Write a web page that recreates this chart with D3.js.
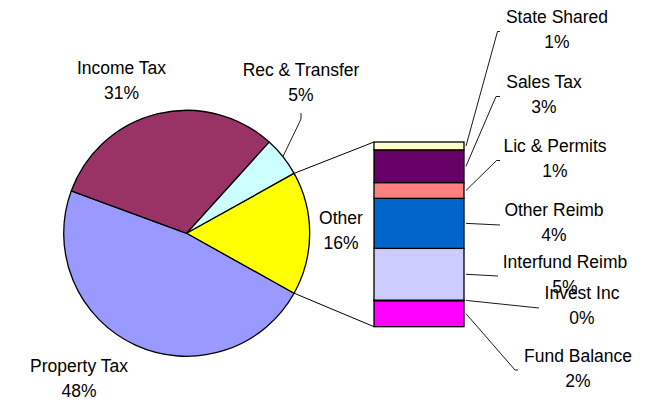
<!DOCTYPE html>
<html>
<head>
<meta charset="utf-8">
<script src="https://cdn.jsdelivr.net/npm/d3@7"></script>
<style>
  body { margin: 0; background: #fff; }
  text { font-family: Arial, "Liberation Sans", sans-serif; font-size: 17.5px; fill: #000; }
</style>
</head>
<body>
<div id="container"></div>
<script>
'use strict';

// pie data (share of revenue, %)
const pieLabels = ["Property Tax", "Income Tax", "Rec & Transfer", "Other"];
const pieValues = [47.5, 31.1, 5.2, 16.2];
const pieColors = ["#9999FF", "#993366", "#CCFFFF", "#FFFF00"];

// breakdown of "Other", bottom to top
const barLabels = ["Fund Balance", "Invest Inc", "Interfund Reimb", "Other Reimb", "Lic & Permits", "Sales Tax", "State Shared"];
const barValues = [2.28, 0.05, 4.54, 4.39, 1.38, 2.87, 0.69];
const barColors = ["#FF00FF", "#00FFFF", "#CCCCFF", "#0066CC", "#FF8080", "#660066", "#FFFFCC"];

const width = 645,
      height = 402,
      cx = 186.7, cy = 233.3, radius = 123,
      bar = {x0: 374, x1: 464, top: 142, bottom: 326.7},
      lineGap = 25;

// label anchor (centre x, first baseline y) and leader elbow, by name
const pieLabelPos = {
  "Property Tax":   {x: 79,    y: 372, lead: false},
  "Income Tax":     {x: 121.5, y: 74,  lead: false},
  "Rec & Transfer": {x: 301,   y: 76,  lead: [[301, 113], [301, 119]]},
  "Other":          {x: 341,   y: 224, lead: false}
};
const barLabelPos = {
  "Fund Balance":    {x: 578, y: 362, lead: [[518, 370], [515, 370]]},
  "Invest Inc":      {x: 582, y: 299, lead: [[539, 308]]},
  "Interfund Reimb": {x: 565, y: 268, lead: [[498, 276]]},
  "Other Reimb":     {x: 554, y: 216, lead: [[500, 225]]},
  "Lic & Permits":   {x: 555, y: 152, lead: [[500, 160.5], [496.5, 160.5]]},
  "Sales Tax":       {x: 544, y: 88,  lead: [[500, 96.5], [496, 96.5]]},
  "State Shared":    {x: 557, y: 23,  lead: [[500, 31.5], [497.5, 31.5]]}
};

const svg = d3.select("#container")
  .append("svg")
  .attr("width", width)
  .attr("height", height);

const total = d3.sum(pieValues);
const otherFrac = pieValues[3] / total;
const startA = Math.PI / 2 + otherFrac * Math.PI;

const pie = d3.pie()
  .sort(null)
  .value(d => d)
  .startAngle(startA)
  .endAngle(startA + 2 * Math.PI);

const arcs = pie(pieValues);
const arc = d3.arc().innerRadius(0).outerRadius(radius);

const g = svg.append("g").attr("transform", `translate(${cx},${cy})`);
g.selectAll("path")
  .data(arcs)
  .join("path")
  .attr("d", arc)
  .attr("fill", (d, i) => pieColors[i])
  .attr("stroke", "#000")
  .attr("stroke-width", 1.3)
  .attr("stroke-linejoin", "round");

const polar = (a, r) => [cx + r * Math.sin(a), cy - r * Math.cos(a)];

// bar of "Other"
const y = d3.scaleLinear()
  .domain([0, d3.sum(barValues)])
  .range([bar.bottom, bar.top]);

const stacked = [];
let acc = 0;
barValues.forEach((v, i) => {
  stacked.push({label: barLabels[i], y0: acc, y1: acc + v, color: barColors[i]});
  acc += v;
});

svg.selectAll(".seg")
  .data(stacked)
  .join("rect")
  .attr("class", "seg")
  .attr("x", bar.x0)
  .attr("width", bar.x1 - bar.x0)
  .attr("y", d => y(d.y1))
  .attr("height", d => y(d.y0) - y(d.y1))
  .attr("fill", d => d.color)
  .attr("stroke", "#000")
  .attr("stroke-width", 1.3);

// connector lines from the "Other" slice to the bar
const oth = arcs[3];
const pTop = polar(oth.startAngle, radius);
const pBot = polar(oth.endAngle, radius);
svg.append("line")
  .attr("x1", pTop[0]).attr("y1", pTop[1])
  .attr("x2", bar.x0).attr("y2", y(y.domain()[1]))
  .attr("stroke", "#000").attr("stroke-width", 1);
svg.append("line")
  .attr("x1", pBot[0]).attr("y1", pBot[1])
  .attr("x2", bar.x0).attr("y2", y(0))
  .attr("stroke", "#000").attr("stroke-width", 1);

// leader lines
const leader = pts => svg.append("path")
  .attr("d", d3.line()(pts))
  .attr("fill", "none")
  .attr("stroke", "#000")
  .attr("stroke-width", 0.9);

arcs.forEach((a, i) => {
  const pos = pieLabelPos[pieLabels[i]];
  if (pos.lead) {
    const mid = polar((a.startAngle + a.endAngle) / 2, radius);
    leader([...pos.lead, mid]);
  }
});

stacked.forEach(d => {
  const pos = barLabelPos[d.label];
  const start = [bar.x1 + 2, (y(d.y0) + y(d.y1)) / 2];
  leader([start, ...pos.lead.slice().reverse()]);
});

// labels
const label = (name, pct, pos) => {
  const t = svg.append("text").attr("text-anchor", "middle");
  t.append("tspan").attr("x", pos.x).attr("y", pos.y).text(name);
  t.append("tspan").attr("x", pos.x).attr("y", pos.y + lineGap).text(Math.round(pct) + "%");
};

pieLabels.forEach((n, i) => label(n, pieValues[i], pieLabelPos[n]));
barLabels.forEach((n, i) => label(n, barValues[i], barLabelPos[n]));
</script>
</body>
</html>
